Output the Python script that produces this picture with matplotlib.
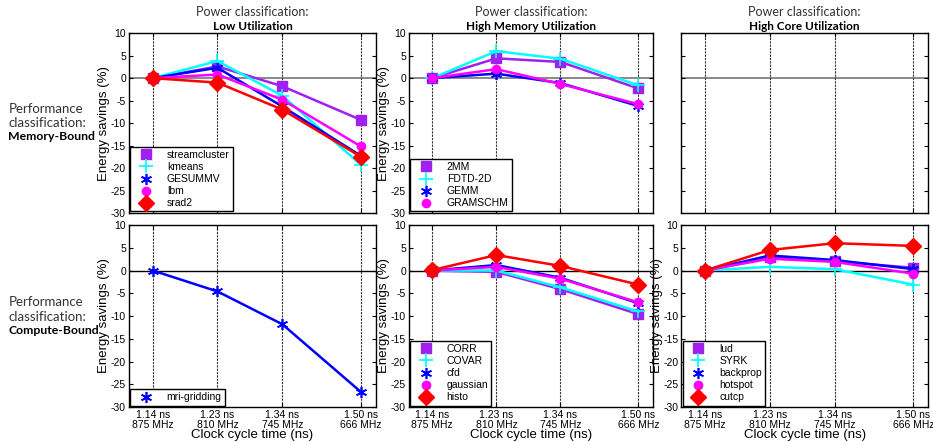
import numpy as np
import matplotlib
matplotlib.use("Agg")
import matplotlib.pyplot as plt

plt.rcParams['font.family'] = ['Liberation Sans', 'DejaVu Sans']
plt.rcParams['axes.unicode_minus'] = False

# clock settings
freqs = [875, 810, 745, 666]
tick_labels = ["1.14 ns\n875 MHz", "1.23 ns\n810 MHz", "1.34 ns\n745 MHz", "1.50 ns\n666 MHz"]

col_titles = ["Low Utilization", "High Memory Utilization", "High Core Utilization"]
row_titles = ["Memory-Bound", "Compute-Bound"]

# Memory-bound / low utilization
mb_low_names = ["streamcluster", "kmeans", "GESUMMV", "lbm", "srad2"]
streamcluster = [0, 2.6, -1.8, -9.3]
kmeans = [0, 3.8, -3.9, -19.3]
gesummv = [0, 2.3, -6.3, -17.3]
lbm = [0, 0.8, -4.8, -15.2]
srad2 = [0, -1.0, -7.0, -17.5]

# Memory-bound / high memory utilization
mb_mem_names = ["2MM", "FDTD-2D", "GEMM", "GRAMSCHM"]
mm2 = [0, 4.4, 3.6, -2.3]
fdtd2d = [0, 6.0, 4.3, -1.6]
gemm = [0, 1.0, -1.1, -6.2]
gramschm = [0, 2.0, -1.3, -5.8]

# Compute-bound / low utilization
cb_low_names = ["mri-gridding"]
mri_gridding = [0, -4.6, -11.8, -26.7]

# Compute-bound / high memory utilization
cb_mem_names = ["CORR", "COVAR", "cfd", "gaussian", "histo"]
corr = [0, -0.3, -4.1, -9.6]
covar = [0, 0.0, -3.7, -9.0]
cfd = [0, 1.2, -1.6, -7.2]
gaussian = [0, 0.8, -1.8, -7.0]
histo = [0.1, 3.4, 1.0, -3.1]

# Compute-bound / high core utilization
cb_core_names = ["lud", "SYRK", "backprop", "hotspot", "cutcp"]
lud = [0, 3.0, 2.0, 0.6]
syrk = [0, 0.8, 0.3, -3.1]
backprop = [0, 3.3, 2.3, 0.3]
hotspot = [0, 2.6, 1.9, -0.7]
cutcp = [0, 4.5, 6.0, 5.4]

styles = [
    dict(color='#a020f0', marker='s', ms=7),
    dict(color='#00ffff', marker='+', ms=10, mew=1.2),
    dict(color='#0000ff', marker=(6, 2, 0), ms=8, mew=1.2),
    dict(color='#ff00ff', marker='o', ms=6),
    dict(color='#ff0000', marker='D', ms=8),
]

panels = {
    (0, 0): (mb_low_names, [streamcluster, kmeans, gesummv, lbm, srad2], [0, 1, 2, 3, 4]),
    (0, 1): (mb_mem_names, [mm2, fdtd2d, gemm, gramschm], [0, 1, 2, 3]),
    (1, 0): (cb_low_names, [mri_gridding], [2]),
    (1, 1): (cb_mem_names, [corr, covar, cfd, gaussian, histo], [0, 1, 2, 3, 4]),
    (1, 2): (cb_core_names, [lud, syrk, backprop, hotspot, cutcp], [0, 1, 2, 3, 4]),
}

fig = plt.figure(figsize=(9.33, 4.42), dpi=100)
lefts = [0.138, 0.438, 0.730]
widths = [0.265, 0.262, 0.265]
bottoms = [0.518, 0.079]
heights = [0.407, 0.412]

for r in range(2):
    for c in range(3):
        ax = fig.add_axes([lefts[c], bottoms[r], widths[c], heights[r]])
        ax.set_xlim(899, 651)
        ax.set_ylim(-30, 10)
        ax.set_xticks(freqs)
        ax.set_yticks(np.arange(-30, 11, 5))
        ax.tick_params(direction='in', length=3, labelsize=7.5, top=True, right=True, pad=2)
        ax.grid(axis='x', linestyle=(0, (2, 1)), color='#333333', lw=0.8)
        ax.axhline(0, color='#808080' if r == 0 else 'k', lw=1.3 if r == 0 else 1.0, zorder=1)
        for sp in ax.spines.values():
            sp.set_linewidth(1.0)
        if r == 1:
            ax.set_xticklabels(tick_labels, fontsize=7.5, linespacing=1.05)
            ax.set_xlabel("Clock cycle time (ns)", fontsize=9.5)
            ax.xaxis.set_label_coords(0.5, -0.12)
        else:
            ax.set_xticklabels([])
        if (r, c) == (0, 2):
            ax.set_yticklabels([])
        else:
            ax.set_ylabel("Energy savings (%)", fontsize=9.5)
            ax.yaxis.set_label_coords(-0.075, 0.5)
        if r == 0:
            ax.set_title("Power classification:", fontsize=9, family='Lato',
                         color='#333333', pad=12)
            ax.text(0.5, 1.008, col_titles[c], transform=ax.transAxes, ha='center',
                    va='bottom', fontsize=8.5, fontweight='bold', family='Lato')
        if (r, c) in panels:
            names, series, idx = panels[(r, c)]
            for name, vals, i in zip(names, series, idx):
                ax.plot(freqs, vals, lw=1.8, label=name, **styles[i], zorder=3)
            leg = ax.legend(loc='lower left', fontsize=7.5, fancybox=False, framealpha=1,
                            edgecolor='k', borderaxespad=0.15, handlelength=2.4,
                            handletextpad=0.8, labelspacing=0.2, borderpad=0.3)
            leg.get_frame().set_linewidth(1.0)
            for h in leg.legend_handles:
                h.set_linestyle('None')

for r, title in enumerate(row_titles):
    y = [0.708, 0.27][r]
    fig.text(0.009, y, "Performance\nclassification:", fontsize=9.5,
             family='Lato', color='#333333', va='bottom', ha='left', linespacing=1.25)
    fig.text(0.009, y - 0.005, title, fontsize=8.8, family='Lato',
             fontweight='bold', va='top', ha='left')

fig.savefig("out.png", dpi=100)
